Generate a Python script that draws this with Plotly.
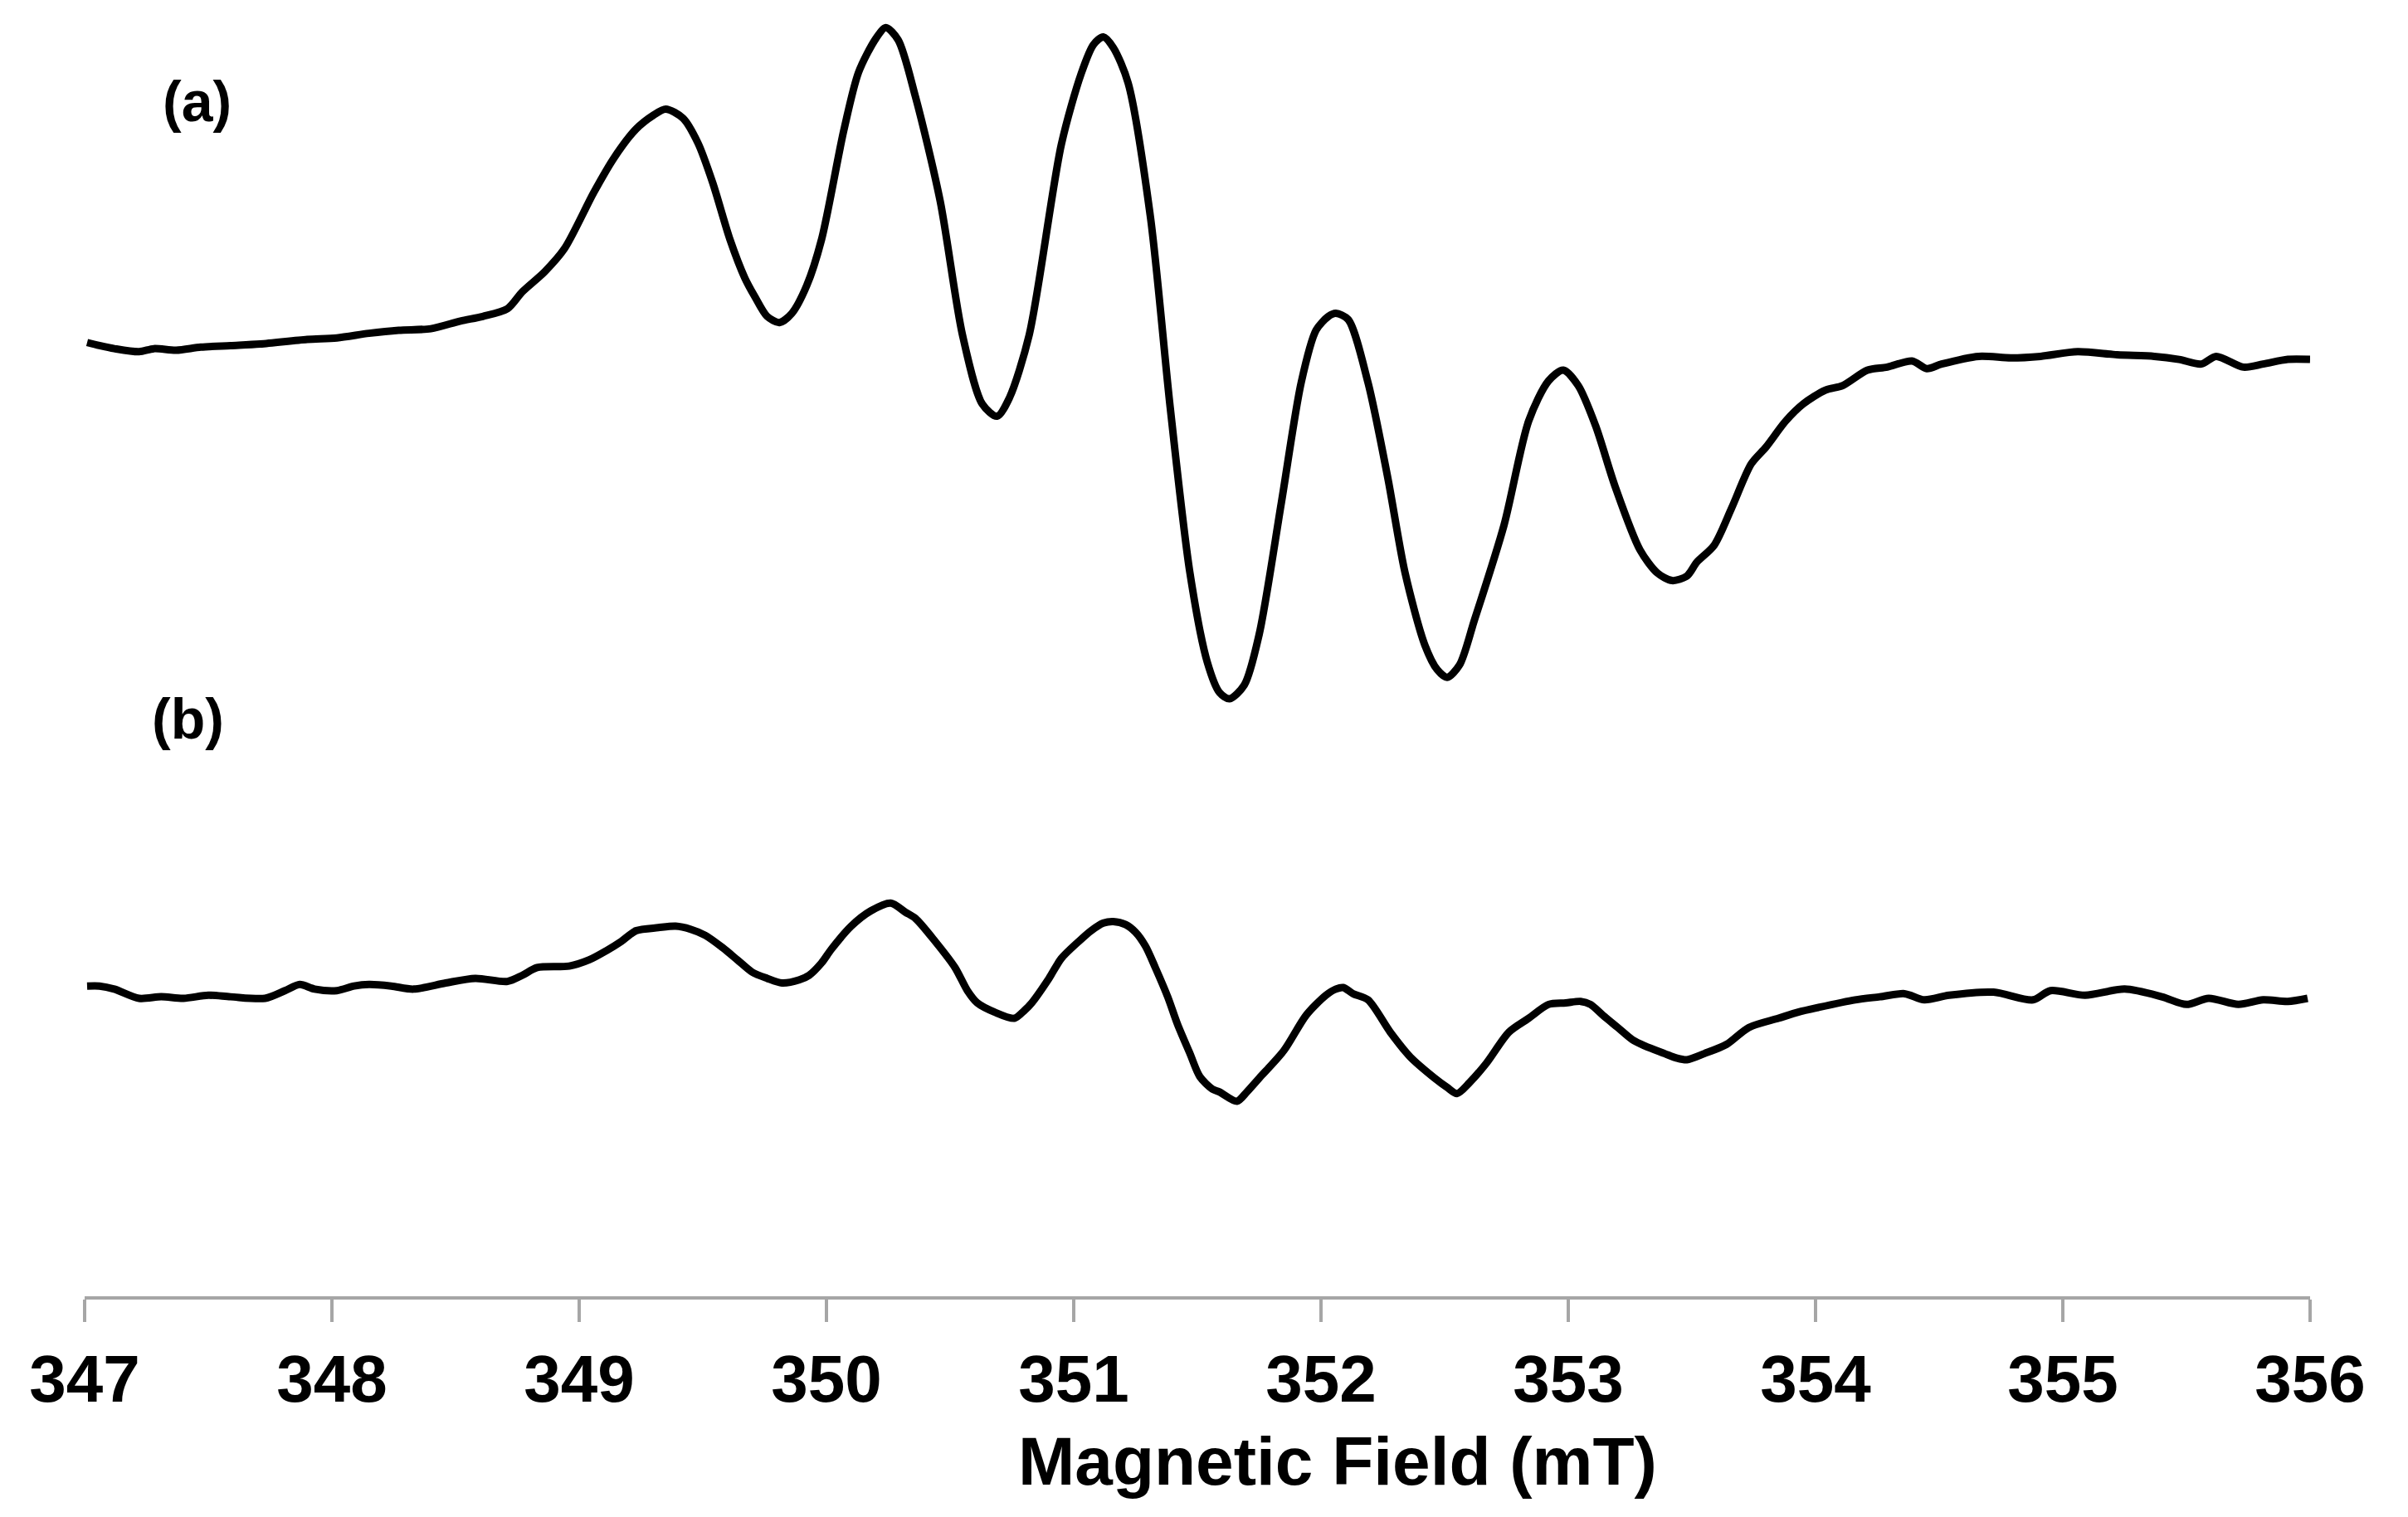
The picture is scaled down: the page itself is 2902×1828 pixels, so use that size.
import plotly.graph_objects as go

# ---- Data ----
field_a = [347.01, 347.06, 347.12, 347.22, 347.28, 347.37, 347.47, 347.59, 347.71, 347.90,
           348.02, 348.15, 348.27, 348.40, 348.52, 348.61, 348.71, 348.77, 348.86, 348.94,
           349.06, 349.14, 349.23, 349.30, 349.35, 349.42, 349.48, 349.54, 349.61, 349.67,
           349.71, 349.76, 349.81, 349.86, 349.92, 349.98, 350.07, 350.13, 350.20, 350.24,
           350.29, 350.36, 350.46, 350.55, 350.63, 350.69, 350.74, 350.82, 350.95, 351.03,
           351.08, 351.12, 351.16, 351.22, 351.31, 351.39, 351.47, 351.54, 351.59, 351.63,
           351.69, 351.75, 351.84, 351.92, 351.98, 352.03, 352.06, 352.11, 352.19, 352.27,
           352.34, 352.42, 352.47, 352.51, 352.56, 352.62, 352.74, 352.84, 352.92, 352.98,
           353.04, 353.11, 353.19, 353.29, 353.36, 353.42, 353.48, 353.52, 353.59, 353.66,
           353.74, 353.80, 353.88, 353.95, 354.04, 354.11, 354.21, 354.29, 354.39, 354.45,
           354.51, 354.66, 354.79, 354.91, 355.06, 355.22, 355.37, 355.47, 355.56, 355.62,
           355.73, 355.81, 355.91, 356.00]
intensity_a = [0.03, 0.01, -0.01, -0.03, -0.01, -0.02, 0.00, 0.01, 0.02, 0.05,
               0.06, 0.09, 0.11, 0.12, 0.17, 0.20, 0.25, 0.36, 0.49, 0.64,
               1.01, 1.23, 1.42, 1.51, 1.55, 1.49, 1.33, 1.07, 0.70, 0.45,
               0.33, 0.20, 0.16, 0.22, 0.40, 0.70, 1.41, 1.79, 2.01, 2.08,
               2.00, 1.63, 0.95, 0.08, -0.37, -0.45, -0.33, 0.08, 1.32, 1.78,
               1.97, 2.02, 1.95, 1.72, 0.85, -0.39, -1.47, -2.05, -2.25, -2.29,
               -2.20, -1.87, -1.01, -0.23, 0.11, 0.20, 0.22, 0.18, -0.23, -0.85,
               -1.47, -1.94, -2.10, -2.15, -2.07, -1.78, -1.16, -0.48, -0.22, -0.15,
               -0.25, -0.51, -0.91, -1.32, -1.47, -1.52, -1.49, -1.40, -1.29, -1.05,
               -0.76, -0.65, -0.48, -0.37, -0.28, -0.25, -0.15, -0.13, -0.09, -0.14,
               -0.11, -0.06, -0.07, -0.06, -0.03, -0.05, -0.06, -0.08, -0.11, -0.06,
               -0.13, -0.11, -0.08, -0.08]

field_b = [347.01, 347.06, 347.12, 347.22, 347.31, 347.40, 347.50, 347.59, 347.73, 347.81,
           347.87, 347.93, 348.02, 348.09, 348.15, 348.24, 348.33, 348.46, 348.58, 348.71,
           348.77, 348.83, 348.96, 349.04, 349.11, 349.17, 349.23, 349.32, 349.39, 349.45,
           349.51, 349.58, 349.64, 349.70, 349.76, 349.82, 349.89, 349.93, 349.98, 350.02,
           350.10, 350.18, 350.26, 350.32, 350.36, 350.44, 350.52, 350.57, 350.61, 350.68,
           350.76, 350.80, 350.83, 350.90, 350.95, 351.02, 351.07, 351.12, 351.16, 351.21,
           351.25, 351.29, 351.33, 351.38, 351.42, 351.47, 351.51, 351.56, 351.59, 351.66,
           351.70, 351.75, 351.85, 351.94, 352.02, 352.06, 352.09, 352.13, 352.19, 352.28,
           352.36, 352.46, 352.51, 352.55, 352.60, 352.67, 352.76, 352.84, 352.92, 352.99,
           353.05, 353.09, 353.14, 353.20, 353.26, 353.31, 353.39, 353.44, 353.48, 353.55,
           353.64, 353.73, 353.85, 353.93, 354.01, 354.16, 354.26, 354.36, 354.44, 354.54,
           354.72, 354.88, 354.95, 355.09, 355.25, 355.40, 355.50, 355.59, 355.71, 355.81,
           355.91, 355.99]
intensity_b = [0.04, 0.04, 0.02, -0.04, -0.03, -0.04, -0.02, -0.03, -0.04, 0.01,
               0.05, 0.02, 0.01, 0.04, 0.05, 0.04, 0.02, 0.06, 0.09, 0.07,
               0.11, 0.16, 0.17, 0.21, 0.27, 0.33, 0.40, 0.42, 0.43, 0.41,
               0.37, 0.29, 0.21, 0.13, 0.09, 0.06, 0.08, 0.11, 0.19, 0.28,
               0.43, 0.53, 0.58, 0.52, 0.48, 0.33, 0.16, 0.01, -0.07, -0.13,
               -0.17, -0.12, -0.07, 0.09, 0.22, 0.33, 0.40, 0.45, 0.46, 0.44,
               0.39, 0.30, 0.16, -0.03, -0.21, -0.40, -0.55, -0.63, -0.65, -0.71,
               -0.65, -0.56, -0.38, -0.15, -0.02, 0.02, 0.03, -0.01, -0.05, -0.26,
               -0.42, -0.56, -0.62, -0.66, -0.59, -0.46, -0.26, -0.17, -0.08, -0.07,
               -0.06, -0.08, -0.15, -0.23, -0.31, -0.35, -0.40, -0.43, -0.44, -0.40,
               -0.34, -0.23, -0.17, -0.13, -0.10, -0.05, -0.03, -0.01, -0.05, -0.02,
               0.00, -0.05, 0.01, -0.02, 0.02, -0.03, -0.08, -0.04, -0.08, -0.05,
               -0.06, -0.04]

tick_values = [347, 348, 349, 350, 351, 352, 353, 354, 355, 356]
tick_labels = ["347", "348", "349", "350", "351", "352", "353", "354", "355", "356"]
panel_labels = ["(a)", "(b)"]
x_title = "Magnetic Field (mT)"

assert len(field_a) == len(intensity_a)
assert len(field_b) == len(intensity_b)

# vertical stacking offsets of the two spectra (display only)
offset_a = 6.18
offset_b = 1.98

FONT = "Liberation Sans, Arial, sans-serif"
LINE = dict(color="black", width=9, shape="spline", smoothing=0.8)

fig = go.Figure()
fig.add_trace(go.Scatter(
    x=field_a, y=[v + offset_a for v in intensity_a], mode="lines",
    line=LINE, showlegend=False, hoverinfo="skip"))
fig.add_trace(go.Scatter(
    x=field_b, y=[v + offset_b for v in intensity_b], mode="lines",
    line=LINE, showlegend=False, hoverinfo="skip"))

# the page body has an 8px margin, so the figure is sized/placed to compensate
fig.update_layout(
    width=2886, height=1812,
    margin=dict(l=94, r=110, t=0, b=258),
    paper_bgcolor="white", plot_bgcolor="white",
    xaxis=dict(
        range=[347, 356], tickmode="array", tickvals=tick_values, ticktext=tick_labels,
        showgrid=False, zeroline=False,
        showline=True, linecolor="#a6a6a6", linewidth=4,
        ticks="outside", ticklen=27, tickwidth=4, tickcolor="#a6a6a6",
        tickfont=dict(family=FONT, size=80, color="black", weight="bold"),
        ticklabelstandoff=0,
    ),
    yaxis=dict(range=[0, 8.397], visible=False, showgrid=False, zeroline=False),
    annotations=[
        dict(text=panel_labels[0], x=0.0507, y=0.9266, xref="paper", yref="paper",
             xanchor="center", yanchor="middle", showarrow=False,
             font=dict(family=FONT, size=68, color="black", weight="bold")),
        dict(text=panel_labels[1], x=0.0466, y=0.4479, xref="paper", yref="paper",
             xanchor="center", yanchor="middle", showarrow=False,
             font=dict(family=FONT, size=68, color="black", weight="bold")),
        dict(text=x_title, x=0.563, y=-0.1275, xref="paper", yref="paper",
             xanchor="center", yanchor="middle", showarrow=False,
             font=dict(family=FONT, size=82, color="black", weight="bold")),
    ],
)

fig.write_html("out.html")
